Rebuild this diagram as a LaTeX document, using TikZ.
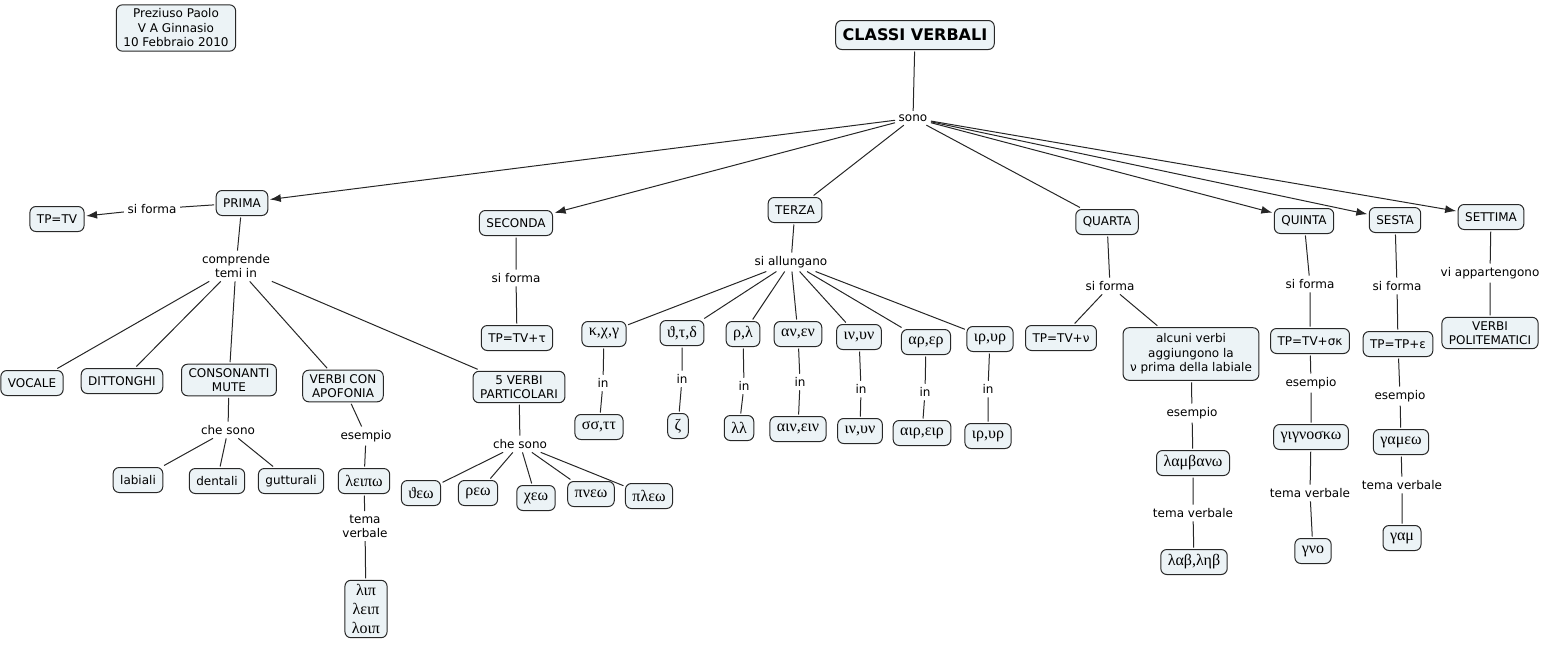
\documentclass[tikz,border=0pt]{standalone}
\usepackage{fontspec}
\setmainfont{DejaVu Sans}
\newfontfamily\grk{Liberation Serif}
\usetikzlibrary{arrows.meta}
\definecolor{cmapfill}{RGB}{236,243,246}
\definecolor{cmapline}{RGB}{40,40,40}

\begin{document}
\begin{tikzpicture}[x=1pt,y=-1pt,
    concept/.style={draw=cmapline, line width=1pt, rounded corners=6pt, fill=cmapfill, inner xsep=7pt, inner ysep=4pt, minimum height=25pt, align=center, font=\fontsize{12}{14.5}\selectfont, outer sep=2pt},
    greek/.style={concept, font=\grk\fontsize{16}{19}\selectfont},
    rel/.style={inner sep=3.5pt, align=center, font=\fontsize{12}{14}\selectfont},
    link/.style={line width=1pt, draw=black!85},
    arrow/.style={link, -{Latex[length=11pt,width=8pt]}}]
                \useasboundingbox (0,0) rectangle (1557,646);
                \node[concept] (autore) at (176,28) {Preziuso Paolo\\V A Ginnasio\\10 Febbraio 2010};
                \node[concept, font=\bfseries\fontsize{16}{19}\selectfont, minimum height=29pt] (classi) at (915,35) {CLASSI VERBALI};
                \node[rel] (sono) at (913,118) {sono};
                \node[concept] (prima) at (242,203) {PRIMA};
                \node[concept] (seconda) at (516,223) {SECONDA};
                \node[concept] (terza) at (795,210) {TERZA};
                \node[concept] (quarta) at (1107,222) {QUARTA};
                \node[concept] (quinta) at (1304,221) {QUINTA};
                \node[concept] (sesta) at (1395,220) {SESTA};
                \node[concept] (settima) at (1491,217) {SETTIMA};
                \draw[link] (classi) -- (sono);
                \draw[arrow] (sono) -- (prima);
                \draw[arrow] (sono) -- (seconda);
                \draw[link] (sono) -- (terza);
                \draw[link] (sono) -- (quarta);
                \draw[arrow] (sono) -- (quinta);
                \draw[arrow] (sono) -- (sesta);
                \draw[arrow] (sono) -- (settima);
                \node[rel] (sfprima) at (152,209) {si forma};
                \node[concept] (tptv) at (57,219) {TP=TV};
                \node[rel] (comprende) at (236,266) {comprende\\temi in};
                \node[concept] (vocale) at (32,383) {VOCALE};
                \node[concept] (dittonghi) at (122,381) {DITTONGHI};
                \node[concept] (mute) at (229,380) {CONSONANTI\\MUTE};
                \node[rel] (chesonoA) at (228,430) {che sono};
                \node[concept] (labiali) at (138,480) {labiali};
                \node[concept] (dentali) at (217,481) {dentali};
                \node[concept] (gutturali) at (291,481) {gutturali};
                \node[concept] (apofonia) at (343,386) {VERBI CON\\APOFONIA};
                \node[rel] (esA) at (366,436) {esempio};
                \node[greek] (leipo) at (364,481) {λειπω};
                \node[rel] (tvA) at (365,526) {tema\\verbale};
                \node[greek] (lip) at (366,609) {λιπ\\λειπ\\λοιπ};
                \node[concept] (particolari) at (519,387) {5 VERBI\\PARTICOLARI};
                \node[rel] (chesonoB) at (520,444) {che sono};
                \node[greek] (theo) at (421,493) {ϑεω};
                \node[greek] (rheo) at (478,493) {ρεω};
                \node[greek] (cheo) at (536,498) {χεω};
                \node[greek] (pneo) at (591,494) {πνεω};
                \node[greek] (pleo) at (649,496) {πλεω};
                \draw[link] (prima) -- (sfprima);
                \draw[arrow] (sfprima) -- (tptv);
                \draw[link] (prima) -- (comprende);
                \draw[link] (comprende) -- (vocale) (comprende) -- (dittonghi) (comprende) -- (mute) (comprende) -- (apofonia) (comprende) -- (particolari);
                \draw[link] (mute) -- (chesonoA) (chesonoA) -- (labiali) (chesonoA) -- (dentali) (chesonoA) -- (gutturali);
                \draw[link] (apofonia) -- (esA) -- (leipo) -- (tvA) -- (lip);
                \draw[link] (particolari) -- (chesonoB) (chesonoB) -- (theo) (chesonoB) -- (rheo) (chesonoB) -- (cheo) (chesonoB) -- (pneo) (chesonoB) -- (pleo);
                \node[rel] (sfseconda) at (516,278) {si forma};
                \node[concept] (tptvtau) at (517,338) {TP=TV+τ};
                \draw[link] (seconda) -- (sfseconda) -- (tptvtau);
                \node[rel] (allungano) at (791,262) {si allungano};
                \node[greek] (kcg) at (604,334) {κ,χ,γ};
                \node[greek] (ttd) at (682,333) {ϑ,τ,δ};
                \node[greek] (rl) at (743,334) {ρ,λ};
                \node[greek] (anen) at (798,334) {αν,εν};
                \node[greek] (inun) at (859,337) {ιν,υν};
                \node[greek] (arer) at (926,342) {αρ,ερ};
                \node[greek] (irur) at (990,339) {ιρ,υρ};
                \node[rel] (inA) at (603,383) {in};
                \node[rel] (inB) at (682,379) {in};
                \node[rel] (inC) at (744,386) {in};
                \node[rel] (inD) at (800,382) {in};
                \node[rel] (inE) at (861,389) {in};
                \node[rel] (inF) at (925,392) {in};
                \node[rel] (inG) at (988,389) {in};
                \node[greek] (sstt) at (599,427) {σσ,ττ};
                \node[greek] (zeta) at (678,426) {ζ};
                \node[greek] (ll) at (739,428) {λλ};
                \node[greek] (ainein) at (798,429) {αιν,ειν};
                \node[greek] (inunB) at (860,431) {ιν,υν};
                \node[greek] (airein) at (922,433) {αιρ,ειρ};
                \node[greek] (irurB) at (988,436) {ιρ,υρ};
                \draw[link] (terza) -- (allungano);
                \draw[link] (allungano) -- (kcg) (allungano) -- (ttd) (allungano) -- (rl) (allungano) -- (anen) (allungano) -- (inun) (allungano) -- (arer) (allungano) -- (irur);
                \draw[link] (kcg) -- (inA) -- (sstt);
                \draw[link] (ttd) -- (inB) -- (zeta);
                \draw[link] (rl) -- (inC) -- (ll);
                \draw[link] (anen) -- (inD) -- (ainein);
                \draw[link] (inun) -- (inE) -- (inunB);
                \draw[link] (arer) -- (inF) -- (airein);
                \draw[link] (irur) -- (inG) -- (irurB);
                \node[rel] (sfquarta) at (1110,286) {si forma};
                \node[concept] (tptvnu) at (1061,338) {TP=TV+ν};
                \node[concept, inner ysep=6pt] (alcuni) at (1191,354) {alcuni verbi\\aggiungono la\\ν prima della labiale};
                \node[rel] (esB) at (1192,413) {esempio};
                \node[greek] (lambano) at (1193,463) {λαμβανω};
                \node[rel] (tvB) at (1193,513) {tema verbale};
                \node[greek] (lableb) at (1194,562) {λαβ,ληβ};
                \draw[link] (quarta) -- (sfquarta) (sfquarta) -- (tptvnu) (sfquarta) -- (alcuni);
                \draw[link] (alcuni) -- (esB) -- (lambano) -- (tvB) -- (lableb);
                \node[rel] (sfquinta) at (1310,284) {si forma};
                \node[concept] (tptvsk) at (1310,341) {TP=TV+σκ};
                \node[rel] (esC) at (1311,383) {esempio};
                \node[greek] (gignosko) at (1311,437) {γιγνοσκω};
                \node[rel] (tvC) at (1310,493) {tema verbale};
                \node[greek] (gno) at (1313,551) {γνο};
                \draw[link] (quinta) -- (sfquinta) -- (tptvsk) -- (esC) -- (gignosko) -- (tvC) -- (gno);
                \node[rel] (sfsesta) at (1397,286) {si forma};
                \node[concept] (tptpe) at (1398,344) {TP=TP+ε};
                \node[rel] (esD) at (1400,396) {esempio};
                \node[greek] (gameo) at (1401,442) {γαμεω};
                \node[rel] (tvD) at (1402,485) {tema verbale};
                \node[greek] (gam) at (1402,538) {γαμ};
                \draw[link] (sesta) -- (sfsesta) -- (tptpe) -- (esD) -- (gameo) -- (tvD) -- (gam);
                \node[rel] (appartengono) at (1490,273) {vi appartengono};
                \node[concept] (politematici) at (1490,333) {VERBI\\POLITEMATICI};
                \draw[link] (settima) -- (appartengono) -- (politematici);
            \end{tikzpicture}
\end{document}
